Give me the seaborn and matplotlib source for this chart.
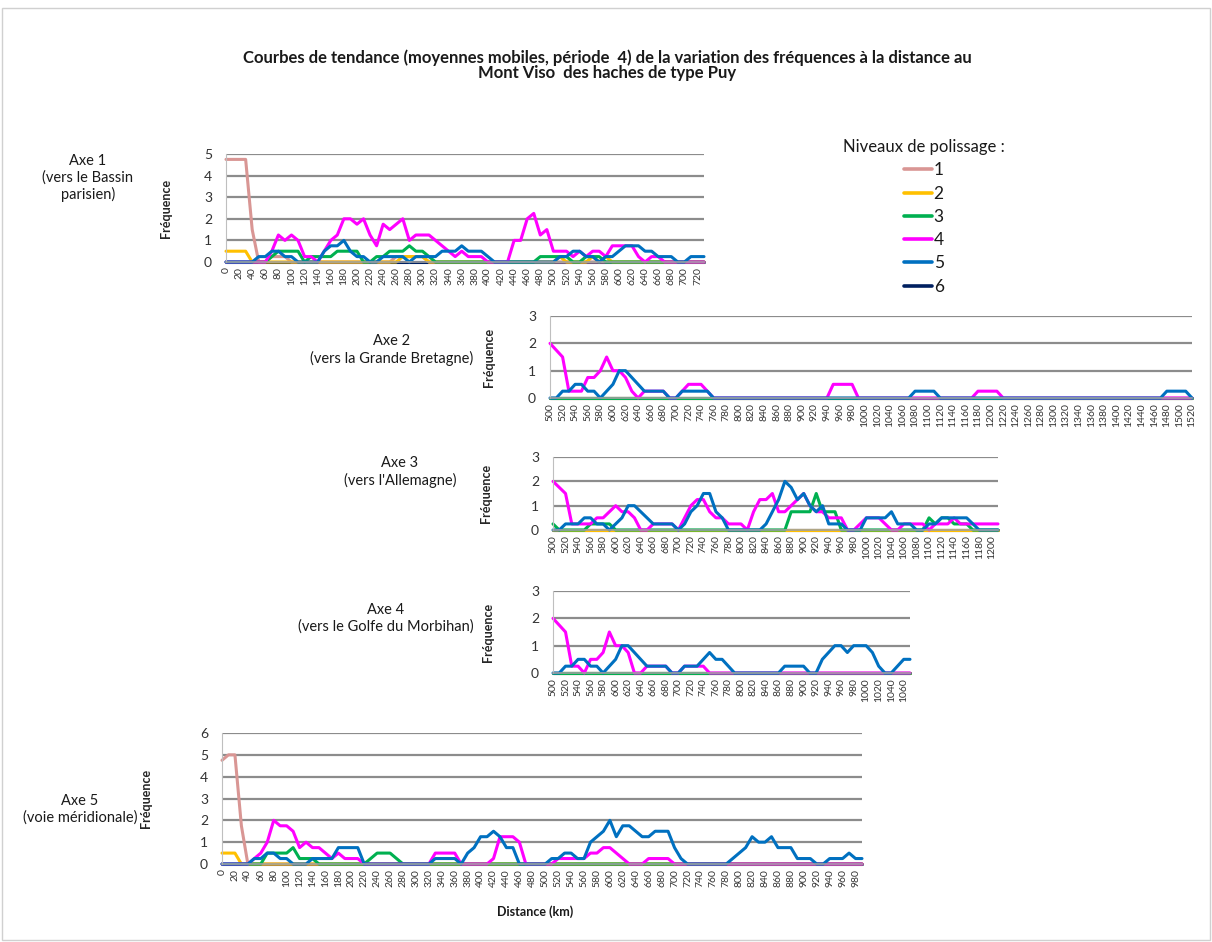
import numpy as np
import pandas as pd
import matplotlib
matplotlib.use('Agg')
import matplotlib.pyplot as plt
from matplotlib.lines import Line2D
from matplotlib.patches import Rectangle
import seaborn as sns

# figure size in pixels (dpi 100)
W, H = 1212, 942

LEVELS = ['1', '2', '3', '4', '5', '6']
LEVEL_COLORS = ['#D99694', '#FFC000', '#00B050', '#FF00FF', '#0070C0', '#002060']

# ----------------------------------------------------------------------------- #
# Axe 1 (vers le Bassin parisien) : 0 -> 730 km, step 10
AXE1_KM = list(range(0, 740, 10))
AXE1_L1 = [4.75, 4.75, 4.75, 4.75, 1.5, 0, 0, 0.25, 0.25, 0.25,
           0, 0, 0, 0, 0, 0, 0, 0, 0, 0,
           0, 0, 0, 0, 0, 0, 0.25, 0.25, 0.25, 0.25,
           0.25, 0, 0, 0, 0, 0, 0, 0, 0, 0,
           0, 0, 0, 0, 0, 0, 0, 0, 0, 0,
           0, 0, 0, 0, 0, 0, 0, 0, 0, 0,
           0, 0, 0, 0, 0, 0, 0, 0, 0, 0,
           0, 0, 0, 0]
AXE1_L2 = [0.5, 0.5, 0.5, 0.5, 0, 0, 0, 0, 0, 0,
           0, 0, 0, 0, 0, 0, 0, 0, 0, 0,
           0, 0, 0, 0, 0, 0, 0, 0.25, 0.25, 0.25,
           0.25, 0, 0, 0, 0, 0, 0, 0, 0, 0,
           0, 0, 0, 0, 0, 0, 0, 0, 0, 0,
           0, 0.25, 0, 0, 0, 0, 0.25, 0, 0.25, 0,
           0, 0, 0, 0, 0, 0, 0, 0, 0, 0,
           0, 0, 0, 0]
AXE1_L3 = [0, 0, 0, 0, 0, 0, 0, 0.25, 0.5, 0.5,
           0.5, 0.5, 0, 0.25, 0.25, 0.25, 0.25, 0.5, 0.5, 0.5,
           0.5, 0, 0, 0.25, 0.25, 0.5, 0.5, 0.5, 0.75, 0.5,
           0.5, 0.25, 0, 0, 0, 0, 0, 0, 0, 0,
           0, 0, 0, 0, 0, 0, 0, 0, 0.25, 0.25,
           0.25, 0.25, 0.25, 0, 0, 0.25, 0.25, 0.25, 0, 0,
           0, 0, 0, 0, 0, 0, 0, 0, 0, 0,
           0, 0, 0, 0]
AXE1_L4 = [0, 0, 0, 0, 0, 0, 0, 0.5, 1.25, 1.0,
           1.25, 1.0, 0.25, 0.25, 0, 0.5, 1.0, 1.25, 2.0, 2.0,
           1.75, 2.0, 1.25, 0.75, 1.75, 1.5, 1.75, 2.0, 1.0, 1.25,
           1.25, 1.25, 1.0, 0.75, 0.5, 0.25, 0.5, 0.25, 0.25, 0.25,
           0, 0, 0, 0, 1.0, 1.0, 2.0, 2.25, 1.25, 1.5,
           0.5, 0.5, 0.5, 0.25, 0.5, 0.25, 0.5, 0.5, 0.25, 0.75,
           0.75, 0.75, 0.75, 0.25, 0, 0.25, 0.25, 0, 0, 0,
           0, 0, 0, 0]
AXE1_L5 = [0, 0, 0, 0, 0, 0.25, 0.25, 0.5, 0.5, 0.25,
           0.25, 0, 0, 0, 0, 0.5, 0.75, 0.75, 1.0, 0.5,
           0.25, 0.25, 0, 0, 0.25, 0.25, 0.25, 0.25, 0, 0.25,
           0.25, 0.25, 0.25, 0.5, 0.5, 0.5, 0.75, 0.5, 0.5, 0.5,
           0.25, 0, 0, 0, 0, 0, 0, 0, 0, 0,
           0, 0.25, 0.25, 0.5, 0.5, 0.25, 0.25, 0, 0.25, 0.25,
           0.5, 0.75, 0.75, 0.75, 0.5, 0.5, 0.25, 0.25, 0.25, 0,
           0, 0.25, 0.25, 0.25]
AXE1_L6 = [0] * 74

# Axe 2 (vers la Grande Bretagne) : 500 -> 1520 km
AXE2_KM = list(range(500, 1530, 10))
AXE2_L1 = [0] * 103
AXE2_L2 = [0] * 103
AXE2_L3 = [0] * 103
AXE2_L4 = [2.0, 1.75, 1.5, 0.25, 0.25, 0.25, 0.75, 0.75, 1.0, 1.5,
           1.0, 1.0, 0.75, 0.25, 0, 0.25, 0.25, 0.25, 0.25, 0,
           0, 0.25, 0.5, 0.5, 0.5, 0.25, 0, 0, 0, 0,
           0, 0, 0, 0, 0, 0, 0, 0, 0, 0,
           0, 0, 0, 0, 0, 0.5, 0.5, 0.5, 0.5, 0,
           0, 0, 0, 0, 0, 0, 0, 0, 0, 0,
           0, 0, 0, 0, 0, 0, 0, 0, 0.25, 0.25,
           0.25, 0.25, 0, 0, 0, 0, 0, 0, 0, 0,
           0, 0, 0, 0, 0, 0, 0, 0, 0, 0,
           0, 0, 0, 0, 0, 0, 0, 0, 0, 0,
           0, 0, 0]
AXE2_L5 = [0, 0, 0.25, 0.25, 0.5, 0.5, 0.25, 0.25, 0, 0.25,
           0.5, 1.0, 1.0, 0.75, 0.5, 0.25, 0.25, 0.25, 0.25, 0,
           0, 0.25, 0.25, 0.25, 0.25, 0.25, 0, 0, 0, 0,
           0, 0, 0, 0, 0, 0, 0, 0, 0, 0,
           0, 0, 0, 0, 0, 0, 0, 0, 0, 0,
           0, 0, 0, 0, 0, 0, 0, 0, 0.25, 0.25,
           0.25, 0.25, 0, 0, 0, 0, 0, 0, 0, 0,
           0, 0, 0, 0, 0, 0, 0, 0, 0, 0,
           0, 0, 0, 0, 0, 0, 0, 0, 0, 0,
           0, 0, 0, 0, 0, 0, 0, 0, 0.25, 0.25,
           0.25, 0.25, 0]
AXE2_L6 = [0] * 103

# Axe 3 (vers l'Allemagne) : 500 -> 1210 km
AXE3_KM = list(range(500, 1220, 10))
AXE3_L1 = [0] * 72
AXE3_L2 = [0] * 72
AXE3_L3 = [0.25, 0, 0, 0, 0, 0, 0.25, 0.25, 0.25, 0.25,
           0, 0, 0, 0, 0, 0, 0, 0, 0, 0,
           0, 0, 0, 0, 0, 0, 0, 0, 0, 0,
           0, 0, 0, 0, 0, 0, 0, 0, 0.75, 0.75,
           0.75, 0.75, 1.5, 0.75, 0.75, 0.75, 0, 0, 0, 0,
           0, 0, 0, 0, 0, 0, 0, 0, 0, 0,
           0.5, 0.25, 0.5, 0.5, 0.25, 0.25, 0.25, 0, 0, 0,
           0, 0]
AXE3_L4 = [2.0, 1.75, 1.5, 0.25, 0.25, 0.25, 0.25, 0.5, 0.5, 0.75,
           1.0, 0.75, 0.75, 0.5, 0, 0, 0.25, 0.25, 0.25, 0.25,
           0, 0.5, 1.0, 1.25, 1.25, 0.75, 0.5, 0.5, 0.25, 0.25,
           0.25, 0, 0.75, 1.25, 1.25, 1.5, 0.75, 0.75, 1.0, 1.25,
           1.5, 1.0, 0.75, 0.75, 0.5, 0.5, 0.5, 0, 0, 0.25,
           0.5, 0.5, 0.5, 0.25, 0, 0, 0.25, 0.25, 0.25, 0.25,
           0, 0.25, 0.25, 0.25, 0.5, 0.25, 0.25, 0.25, 0.25, 0.25,
           0.25, 0.25]
AXE3_L5 = [0, 0, 0.25, 0.25, 0.25, 0.5, 0.5, 0.25, 0.25, 0,
           0.25, 0.5, 1.0, 1.0, 0.75, 0.5, 0.25, 0.25, 0.25, 0.25,
           0, 0.25, 0.75, 1.0, 1.5, 1.5, 0.75, 0.5, 0, 0,
           0, 0, 0, 0, 0.25, 0.75, 1.25, 2.0, 1.75, 1.25,
           1.5, 1.0, 0.75, 1.0, 0.25, 0.25, 0.25, 0, 0, 0,
           0.5, 0.5, 0.5, 0.5, 0.75, 0.25, 0.25, 0.25, 0, 0,
           0.25, 0.25, 0.5, 0.5, 0.5, 0.5, 0.5, 0.25, 0, 0,
           0, 0]
AXE3_L6 = [0] * 72

# Axe 4 (vers le Golfe du Morbihan) : 500 -> 1070 km
AXE4_KM = list(range(500, 1080, 10))
AXE4_L1 = [0] * 58
AXE4_L2 = [0] * 58
AXE4_L3 = [0] * 58
AXE4_L4 = [2.0, 1.75, 1.5, 0.25, 0.25, 0, 0.5, 0.5, 0.75, 1.5,
           1.0, 1.0, 0.75, 0, 0, 0.25, 0.25, 0.25, 0.25, 0,
           0, 0.25, 0.25, 0.25, 0.25, 0, 0, 0, 0, 0,
           0, 0, 0, 0, 0, 0, 0, 0, 0, 0,
           0, 0, 0, 0, 0, 0, 0, 0, 0, 0,
           0, 0, 0, 0, 0, 0, 0, 0]
AXE4_L5 = [0, 0, 0.25, 0.25, 0.5, 0.5, 0.25, 0.25, 0, 0.25,
           0.5, 1.0, 1.0, 0.75, 0.5, 0.25, 0.25, 0.25, 0.25, 0,
           0, 0.25, 0.25, 0.25, 0.5, 0.75, 0.5, 0.5, 0.25, 0,
           0, 0, 0, 0, 0, 0, 0, 0.25, 0.25, 0.25,
           0.25, 0, 0, 0.5, 0.75, 1.0, 1.0, 0.75, 1.0, 1.0,
           1.0, 0.75, 0.25, 0, 0, 0.25, 0.5, 0.5]
AXE4_L6 = [0] * 58

# Axe 5 (voie meridionale) : 0 -> 990 km
AXE5_KM = list(range(0, 1000, 10))
AXE5_L1 = [4.75, 5.0, 5.0, 1.75, 0, 0, 0, 0, 0, 0] + [0] * 90
AXE5_L2 = [0.5, 0.5, 0.5, 0, 0, 0, 0, 0, 0, 0] + [0] * 90
AXE5_L3 = [0, 0, 0, 0, 0, 0, 0, 0.5, 0.5, 0.5,
           0.5, 0.75, 0.25, 0.25, 0.25, 0, 0, 0, 0, 0,
           0, 0, 0, 0.25, 0.5, 0.5, 0.5, 0.25, 0, 0] + [0] * 70
AXE5_L4 = [0, 0, 0, 0, 0, 0.25, 0.5, 1.0, 2.0, 1.75,
           1.75, 1.5, 0.75, 1.0, 0.75, 0.75, 0.5, 0.25, 0.5, 0.25,
           0.25, 0.25, 0, 0, 0, 0, 0, 0, 0, 0,
           0, 0, 0, 0.5, 0.5, 0.5, 0.5, 0, 0, 0,
           0, 0, 0.25, 1.25, 1.25, 1.25, 1.0, 0, 0, 0,
           0, 0, 0.25, 0.25, 0.25, 0.25, 0.25, 0.5, 0.5, 0.75,
           0.75, 0.5, 0.25, 0, 0, 0, 0.25, 0.25, 0.25, 0.25] + [0] * 30
AXE5_L5 = [0, 0, 0, 0, 0, 0.25, 0.25, 0.5, 0.5, 0.25,
           0.25, 0, 0, 0, 0.25, 0.25, 0.25, 0.25, 0.75, 0.75,
           0.75, 0.75, 0, 0, 0, 0, 0, 0, 0, 0,
           0, 0, 0, 0.25, 0.25, 0.25, 0.25, 0, 0.5, 0.75,
           1.25, 1.25, 1.5, 1.25, 0.75, 0.75, 0, 0, 0, 0,
           0, 0.25, 0.25, 0.5, 0.5, 0.25, 0.25, 1.0, 1.25, 1.5,
           2.0, 1.25, 1.75, 1.75, 1.5, 1.25, 1.25, 1.5, 1.5, 1.5,
           0.75, 0.25, 0, 0, 0, 0, 0, 0, 0, 0.25,
           0.5, 0.75, 1.25, 1.0, 1.0, 1.25, 0.75, 0.75, 0.75, 0.25,
           0.25, 0.25, 0, 0, 0.25, 0.25, 0.25, 0.5, 0.25, 0.25]
AXE5_L6 = [0] * 100

# ----------------------------------------------------------------------------- #
# layout (pixel boxes: left, top, right, bottom)
PANELS = [
    dict(km=AXE1_KM, series=[AXE1_L1, AXE1_L2, AXE1_L3, AXE1_L4, AXE1_L5, AXE1_L6], ymax=5,
         box=(226, 154, 704, 262), ylab_x=172,
         label='Axe 1\n(vers le Bassin\nparisien)', label_xy=(88, 178)),
    dict(km=AXE2_KM, series=[AXE2_L1, AXE2_L2, AXE2_L3, AXE2_L4, AXE2_L5, AXE2_L6], ymax=3,
         box=(550, 316, 1192, 398), ylab_x=495,
         label='Axe 2\n(vers la Grande Bretagne)', label_xy=(392, 350)),
    dict(km=AXE3_KM, series=[AXE3_L1, AXE3_L2, AXE3_L3, AXE3_L4, AXE3_L5, AXE3_L6], ymax=3,
         box=(553, 457, 998, 530), ylab_x=492,
         label="Axe 3\n(vers l'Allemagne)", label_xy=(400, 472)),
    dict(km=AXE4_KM, series=[AXE4_L1, AXE4_L2, AXE4_L3, AXE4_L4, AXE4_L5, AXE4_L6], ymax=3,
         box=(553, 591, 910, 673), ylab_x=494,
         label='Axe 4\n(vers le Golfe du Morbihan)', label_xy=(386, 618)),
    dict(km=AXE5_KM, series=[AXE5_L1, AXE5_L2, AXE5_L3, AXE5_L4, AXE5_L5, AXE5_L6], ymax=6,
         box=(222, 733, 862, 864), ylab_x=152,
         label='Axe 5\n(voie méridionale)', label_xy=(80, 809)),
]

TITLE = ('Courbes de tendance (moyennes mobiles, période  4) de la variation des fréquences à la distance au\n'
         'Mont Viso  des haches de type Puy')

sns.set_style('white')
plt.rcParams['font.family'] = ['Lato', 'DejaVu Sans']
plt.rcParams['text.color'] = '#1a1a1a'

PALETTE = dict(zip(LEVELS, LEVEL_COLORS))
# level 6 drawn first, so the others lie on top of it
DRAW_ORDER = ['6', '1', '2', '3', '4', '5']


def fig_rect(box):
    l, t, r, b = box
    return [l / W, 1 - b / H, (r - l) / W, (b - t) / H]


fig = plt.figure(figsize=(W / 100, H / 100), dpi=100)
fig.patches.append(Rectangle((0.002, 0.002), 0.996, 0.99, transform=fig.transFigure,
                             fill=False, edgecolor='#D0D0D0', lw=1))

for p in PANELS:
    km = p['km']
    df = pd.DataFrame({
        'Distance': np.tile(km, len(LEVELS)),
        'Fréquence': np.concatenate([np.asarray(s, dtype=float) for s in p['series']]),
        'Niveau': np.repeat(LEVELS, len(km)),
    })
    ax = fig.add_axes(fig_rect(p['box']))
    sns.lineplot(data=df, x='Distance', y='Fréquence', hue='Niveau', hue_order=DRAW_ORDER,
                 palette=PALETTE, linewidth=2.2, legend=False, errorbar=None, sort=False, ax=ax)
    for ln in ax.lines:
        ln.set_clip_on(False)
        ln.set_solid_joinstyle('round')

    ax.set_xlim(km[0], km[-1])
    ax.set_ylim(0, p['ymax'])
    ax.set_yticks(np.arange(0, p['ymax'] + 1))
    ax.yaxis.grid(True, color='#8C8C8C', lw=1.6)
    ax.xaxis.grid(False)
    ax.set_axisbelow(True)

    ax.set_xticks(km[::2])
    ax.set_xticklabels([str(v) for v in km[::2]], rotation=90, fontsize=7.5, color='#333333')
    ax.set_xticks(km, minor=True)
    ax.tick_params(axis='x', which='both', length=3, width=1, color='#A0A0A0', direction='out', pad=1)
    ax.tick_params(axis='y', length=0, pad=10, labelsize=10, labelcolor='#333333')

    for side in ('top', 'right'):
        ax.spines[side].set_visible(False)
    ax.spines['left'].set_color('#BFBFBF')
    ax.spines['bottom'].set_color('#A0A0A0')
    ax.spines['bottom'].set_linewidth(1.2)

    l, t, r, b = p['box']
    ax.set_xlabel('')
    ax.set_ylabel('Fréquence', fontweight='bold', fontsize=9)
    ax.yaxis.set_label_coords((p['ylab_x'] - l) / (r - l), 0.5)

    lx, ly = p['label_xy']
    fig.text(lx / W, 1 - ly / H, p['label'], ha='center', va='center', fontsize=10.5, linespacing=1.2)

fig.text(535 / W, 1 - 912 / H, 'Distance (km)', ha='center', va='center', fontsize=9, fontweight='bold')
fig.text(607 / W, 1 - 65 / H, TITLE, ha='center', va='center', fontsize=12, fontweight='bold',
         linespacing=0.95)

handles = [Line2D([], [], color=c, lw=2.6) for c in LEVEL_COLORS]
fig.legend(handles, LEVELS, title='Niveaux de polissage :', loc='upper center',
           bbox_to_anchor=(924 / W, 1 - 139 / H), frameon=False, fontsize=12.5, title_fontsize=12,
           handlelength=1.6, handletextpad=0.1, labelspacing=0.42, borderpad=0, borderaxespad=0)

fig.savefig('out.png', dpi=100)
